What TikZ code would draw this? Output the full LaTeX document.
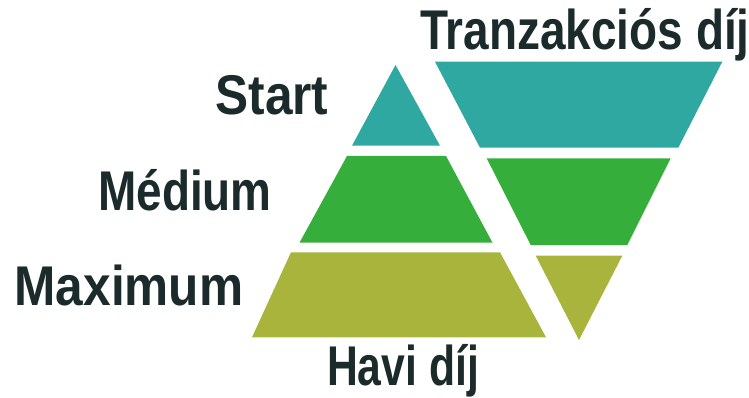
\documentclass[tikz,border=0pt]{standalone}
\usepackage{fontspec}
\setmainfont{Liberation Sans}[FakeStretch=0.82]
\definecolor{tealc}{HTML}{2EA8A0}
\definecolor{greenc}{HTML}{35AE3B}
\definecolor{olivec}{HTML}{A8B43C}
\definecolor{textc}{HTML}{1B2A2A}
\tikzstyle{teal band}=[fill=tealc]
\tikzstyle{green band}=[fill=greenc]
\tikzstyle{olive band}=[fill=olivec]
\tikzstyle{label}=[anchor=base,inner sep=0pt,text=textc,font=\fontsize{56}{60}\selectfont\bfseries]
\tikzstyle{wide}=[transform shape,xscale=1.08]

\begin{document}
\begin{tikzpicture}[x=1pt,y=-1pt]
\useasboundingbox (0,0) rectangle (749,398);

% left pyramid
\fill[teal band] (395.5,65) -- (440,145.7) -- (352,145.7) -- cycle;
\fill[green band] (347,156) -- (446,156) -- (492.5,242.7) -- (299.5,242.7) -- cycle;
\fill[olive band] (291,252.3) -- (500,252.3) -- (546,337.3) -- (252,337.3) -- cycle;

% right funnel
\fill[teal band] (435,61.7) -- (722.3,61.7) -- (678.3,147.7) -- (480,147.7) -- cycle;
\fill[green band] (486.7,158.3) -- (670.7,158.3) -- (627.3,245) -- (530.7,245) -- cycle;
\fill[olive band] (535.7,255.7) -- (622.3,255.7) -- (579,340) -- cycle;

\node[label,wide] (start) at (272,115) {Start};
\node[label] (medium) at (185,210) {Médium};
\node[label,wide] (maximum) at (129,305) {Maximum};
\node[label,transform shape,xscale=0.93] (havi) at (403,385) {Havi díj};
\node[label] (tranz) at (585,50) {Tranzakciós díj};

\end{tikzpicture}
\end{document}
